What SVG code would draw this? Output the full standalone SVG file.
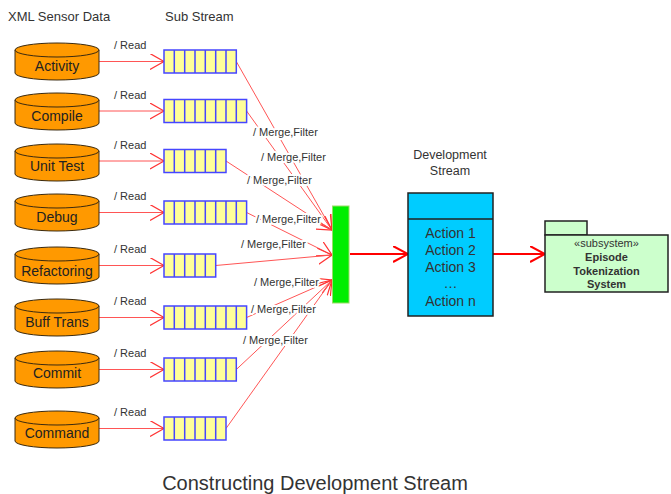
<svg xmlns="http://www.w3.org/2000/svg" width="671" height="494" viewBox="0 0 671 494">
<defs>
<style>
text{font-family:"Liberation Sans",Arial,sans-serif;fill:#333}
.cyl{fill:#ff9900;stroke:#3a2a10;stroke-width:1}
.ct{font-size:14px;text-anchor:middle;fill:#222}
.q{fill:#ffff99;stroke:#4646ff;stroke-width:1.5}
.rd{font-size:11px}
.mf{font-size:11px;stroke:#fff;stroke-width:4;paint-order:stroke;stroke-linejoin:round}
.ln{stroke:#ff5555;stroke-width:1;fill:none;marker-end:url(#ah)}
.big{stroke:#ff0000;stroke-width:2;fill:none;marker-end:url(#ahb)}
.ttl{font-size:13px}
</style>
<marker id="ah" markerUnits="userSpaceOnUse" markerWidth="16" markerHeight="18" refX="14" refY="8" orient="auto">
<path d="M0,0 L14,8 L0,16" fill="none" stroke="#ff3333" stroke-width="1.2"/>
</marker>
<marker id="ahb" markerUnits="userSpaceOnUse" markerWidth="17" markerHeight="18" refX="15" refY="8" orient="auto">
<path d="M0,0 L15,8 L0,16" fill="none" stroke="#ff0000" stroke-width="2"/>
</marker>
</defs>
<rect width="671" height="494" fill="#fff"/>

<text class="ttl" x="8" y="21">XML Sensor Data</text>
<text class="ttl" x="165" y="21">Sub Stream</text>

<g id="connectors">
<line class="ln" x1="99" y1="61.5" x2="164" y2="61.5"/>
<line class="ln" x1="99" y1="111" x2="164" y2="111"/>
<line class="ln" x1="99" y1="161" x2="164" y2="161"/>
<line class="ln" x1="99" y1="212.5" x2="164" y2="212.5"/>
<line class="ln" x1="99" y1="265.5" x2="164" y2="265.5"/>
<line class="ln" x1="99" y1="317.5" x2="164" y2="317.5"/>
<line class="ln" x1="99" y1="369.5" x2="164" y2="369.5"/>
<line class="ln" x1="99" y1="428.5" x2="164" y2="428.5"/>
<line class="ln" x1="236.3" y1="61.5" x2="332" y2="230"/>
<line class="ln" x1="246.6" y1="111" x2="332" y2="230"/>
<line class="ln" x1="226" y1="161" x2="332" y2="230"/>
<line class="ln" x1="246.6" y1="212.5" x2="332" y2="255"/>
<line class="ln" x1="215.7" y1="265.5" x2="332" y2="255"/>
<line class="ln" x1="246.6" y1="317.5" x2="332" y2="280"/>
<line class="ln" x1="236.3" y1="369.5" x2="332" y2="280"/>
<line class="ln" x1="226" y1="428.5" x2="332" y2="280"/>
<line class="big" x1="350" y1="254" x2="408" y2="254"/>
<line class="big" x1="493" y1="254" x2="545" y2="254"/>
<g class="rd">
<text class="rd" x="114" y="49">/ Read</text>
<text class="rd" x="114" y="99">/ Read</text>
<text class="rd" x="114" y="149">/ Read</text>
<text class="rd" x="114" y="200">/ Read</text>
<text class="rd" x="114" y="253">/ Read</text>
<text class="rd" x="114" y="305">/ Read</text>
<text class="rd" x="114" y="357">/ Read</text>
<text class="rd" x="114" y="416">/ Read</text>
</g>
<text class="mf" x="253" y="135.5">/ Merge,Filter</text>
<text class="mf" x="261" y="160.5">/ Merge,Filter</text>
<text class="mf" x="247" y="184">/ Merge,Filter</text>
<text class="mf" x="256" y="223">/ Merge,Filter</text>
<text class="mf" x="241" y="248">/ Merge,Filter</text>
<text class="mf" x="254" y="286">/ Merge,Filter</text>
<text class="mf" x="251" y="313">/ Merge,Filter</text>
<text class="mf" x="243" y="343.5">/ Merge,Filter</text>
</g>

<g id="activity"><path class="cyl" d="M15,50 V73 A42,7 0 0 0 99,73 V50 Z"/><ellipse class="cyl" cx="57" cy="50" rx="42" ry="7"/><text class="ct" x="57" y="71">Activity</text></g>
<g id="compile"><path class="cyl" d="M15,100 V123 A42,7 0 0 0 99,123 V100 Z"/><ellipse class="cyl" cx="57" cy="100" rx="42" ry="7"/><text class="ct" x="57" y="121">Compile</text></g>
<g id="unittest"><path class="cyl" d="M15,151 V174 A42,7 0 0 0 99,174 V151 Z"/><ellipse class="cyl" cx="57" cy="151" rx="42" ry="7"/><text class="ct" x="57" y="171">Unit Test</text></g>
<g id="debug"><path class="cyl" d="M15,201 V224 A42,7 0 0 0 99,224 V201 Z"/><ellipse class="cyl" cx="57" cy="201" rx="42" ry="7"/><text class="ct" x="57" y="222">Debug</text></g>
<g id="refactoring"><path class="cyl" d="M15,254 V277 A42,7 0 0 0 99,277 V254 Z"/><ellipse class="cyl" cx="57" cy="254" rx="42" ry="7"/><text class="ct" x="57" y="276">Refactoring</text></g>
<g id="bufftrans"><path class="cyl" d="M15,306 V329 A42,7 0 0 0 99,329 V306 Z"/><ellipse class="cyl" cx="57" cy="306" rx="42" ry="7"/><text class="ct" x="57" y="327">Buff Trans</text></g>
<g id="commit"><path class="cyl" d="M15,358 V381 A42,7 0 0 0 99,381 V358 Z"/><ellipse class="cyl" cx="57" cy="358" rx="42" ry="7"/><text class="ct" x="57" y="378">Commit</text></g>
<g id="command"><path class="cyl" d="M15,418 V441 A42,7 0 0 0 99,441 V418 Z"/><ellipse class="cyl" cx="57" cy="418" rx="42" ry="7"/><text class="ct" x="57" y="438">Command</text></g>

<g id="q-activity"><rect class="q" x="164" y="50" width="72.3" height="23"/><path class="q" d="M174.3,50V73M184.7,50V73M195,50V73M205.3,50V73M215.7,50V73M226,50V73"/></g>
<g id="q-compile"><rect class="q" x="164" y="99.5" width="82.6" height="23"/><path class="q" d="M174.3,99.5V122.5M184.7,99.5V122.5M195,99.5V122.5M205.3,99.5V122.5M215.7,99.5V122.5M226,99.5V122.5M236.3,99.5V122.5"/></g>
<g id="q-unittest"><rect class="q" x="164" y="149.5" width="62" height="23"/><path class="q" d="M174.3,149.5V172.5M184.7,149.5V172.5M195,149.5V172.5M205.3,149.5V172.5M215.7,149.5V172.5"/></g>
<g id="q-debug"><rect class="q" x="164" y="201" width="82.6" height="23"/><path class="q" d="M174.3,201V224M184.7,201V224M195,201V224M205.3,201V224M215.7,201V224M226,201V224M236.3,201V224"/></g>
<g id="q-refactoring"><rect class="q" x="164" y="254" width="51.7" height="23"/><path class="q" d="M174.3,254V277M184.7,254V277M195,254V277M205.3,254V277"/></g>
<g id="q-bufftrans"><rect class="q" x="164" y="306" width="82.6" height="23"/><path class="q" d="M174.3,306V329M184.7,306V329M195,306V329M205.3,306V329M215.7,306V329M226,306V329M236.3,306V329"/></g>
<g id="q-commit"><rect class="q" x="164" y="358" width="72.3" height="23"/><path class="q" d="M174.3,358V381M184.7,358V381M195,358V381M205.3,358V381M215.7,358V381M226,358V381"/></g>
<g id="q-command"><rect class="q" x="164" y="417" width="62" height="23"/><path class="q" d="M174.3,417V440M184.7,417V440M195,417V440M205.3,417V440M215.7,417V440"/></g>

<g id="merge-bar"><rect x="332.5" y="206" width="16.5" height="97" fill="#00ee00" stroke="#99dd66" stroke-width="1"/></g>

<g id="dev-stream">
<text x="450" y="159" font-size="12.5" text-anchor="middle">Development</text>
<text x="450" y="175" font-size="12.5" text-anchor="middle">Stream</text>
<rect x="408" y="193" width="85" height="123" fill="#00ccff" stroke="#222" stroke-width="1.5"/>
<line x1="408" y1="219" x2="493" y2="219" stroke="#222" stroke-width="1.5"/>
<text x="450.5" y="238" font-size="14" text-anchor="middle" fill="#222">Action 1</text>
<text x="450.5" y="255" font-size="14" text-anchor="middle" fill="#222">Action 2</text>
<text x="450.5" y="272" font-size="14" text-anchor="middle" fill="#222">Action 3</text>
<text x="450.5" y="288" font-size="14" text-anchor="middle" fill="#222">…</text>
<text x="450.5" y="306" font-size="14" text-anchor="middle" fill="#222">Action n</text>
</g>

<g id="subsystem">
<rect x="545" y="221" width="42" height="14" fill="#ccffcc" stroke="#222" stroke-width="1.5"/>
<rect x="545" y="235" width="123" height="57" fill="#ccffcc" stroke="#222" stroke-width="1.5"/>
<text x="606.5" y="247" font-size="11" text-anchor="middle">«subsystem»</text>
<text x="606.5" y="261" font-size="11" font-weight="bold" text-anchor="middle" fill="#222">Episode</text>
<text x="606.5" y="275" font-size="11" font-weight="bold" text-anchor="middle" fill="#222">Tokenization</text>
<text x="606.5" y="288" font-size="11" font-weight="bold" text-anchor="middle" fill="#222">System</text>
</g>

<text x="315" y="490" font-size="20" text-anchor="middle" fill="#222">Constructing Development Stream</text>
</svg>
